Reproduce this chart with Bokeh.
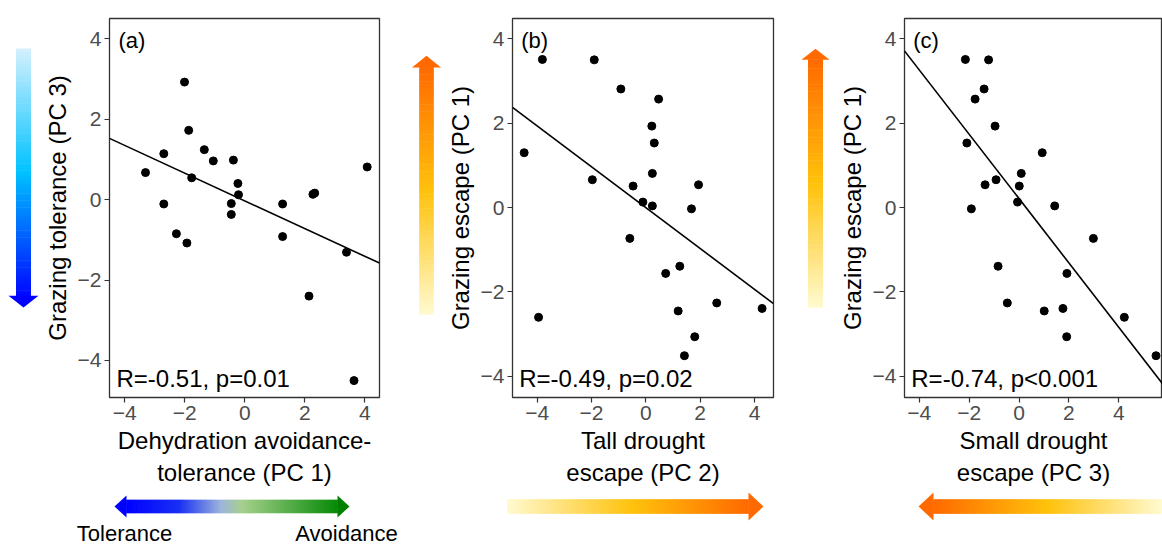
import numpy as np
from bokeh.plotting import figure
from bokeh.layouts import row, column
from bokeh.models import FixedTicker
from bokeh.core.properties import value
from bokeh.embed import file_html
from bokeh.resources import INLINE

# ---- data -------------------------------------------------------------
# (a) dehydration avoidance-tolerance (PC1) vs grazing tolerance (PC3)
dehydration_pc1 = [-2.01, -1.87, -2.70, -1.35, -1.05, -0.38, -3.31, -1.77, -0.23, -0.21,
                   -2.70, -0.45, -0.45, -2.28, -1.93, 1.26, 1.26, 2.27, 2.33, 4.08,
                   3.39, 2.14, 3.64]
tolerance_pc3 = [2.92, 1.72, 1.14, 1.24, 0.96, 0.98, 0.67, 0.54, 0.40, 0.12,
                 -0.11, -0.10, -0.37, -0.85, -1.08, -0.11, -0.92, 0.13, 0.16, 0.81,
                 -1.31, -2.40, -4.50]

# (b, c) grazing escape (PC1) vs tall (PC2) and small (PC3) drought escape
escape_pc1 = [3.51, 3.50, 2.81, 2.57, 1.93, 1.53, 1.30, 0.81, 0.66, 0.51,
              0.54, 0.13, 0.04, -0.03, -0.73, -1.39, -1.56, -2.26, -2.39, -2.45,
              -2.60, -3.06, -3.51]
tall_pc2 = [-3.81, -1.90, -0.92, 0.47, 0.22, 0.31, -4.48, 0.24, -1.97, -0.47,
            1.94, -0.11, 0.24, 1.68, -0.59, 1.25, 0.73, 2.61, 4.28, 1.19,
            -3.95, 1.80, 1.42]
small_pc3 = [-2.15, -1.22, -1.40, -1.76, -0.96, -2.09, 0.93, 0.09, -0.92, 0.01,
             -1.36, -0.06, 1.43, -1.91, 2.98, -0.84, 1.92, -0.47, 1.76, 1.01,
             4.22, 1.91, 5.49]

panel_tags = ["(a)", "(b)", "(c)"]
stats_labels = ["R=-0.51, p=0.01", "R=-0.49, p=0.02", "R=-0.74, p<0.001"]
x_titles = ["Dehydration avoidance-\ntolerance (PC 1)",
            "Tall drought\nescape (PC 2)",
            "Small drought\nescape (PC 3)"]
y_titles = ["Grazing tolerance (PC 3)", "Grazing escape (PC 1)", "Grazing escape (PC 1)"]
tick_values = [-4, -2, 0, 2, 4]

FONT = "Liberation Sans"
TOP_H = 488          # height of the scatter row
STRIP_H = 546 - TOP_H
FRAME_H = 379


def make_panel(xs, ys, xr, yr, width, border_left, border_right, tag, stats, xt, yt):
    p = figure(width=width, height=TOP_H, x_range=xr, y_range=yr,
               output_backend="svg", toolbar_location=None,
               min_border_left=border_left, min_border_right=border_right,
               min_border_top=18, min_border_bottom=TOP_H - 18 - FRAME_H)
    p.grid.visible = False
    p.outline_line_color = "#333333"
    p.outline_line_width = 1.3
    p.background_fill_color = "white"
    p.border_fill_color = "white"
    for ax in (p.xaxis[0], p.yaxis[0]):
        ax.ticker = FixedTicker(ticks=tick_values)
        ax.axis_line_color = None
        ax.major_tick_line_color = "#333333"
        ax.major_tick_line_width = 1.2
        ax.major_tick_out = 5
        ax.major_tick_in = 0
        ax.minor_tick_line_color = None
        ax.major_label_text_font = FONT
        ax.major_label_text_font_size = "21px"
        ax.major_label_text_color = "#4d4d4d"
        ax.major_label_standoff = 3
        ax.axis_label_text_font = FONT
        ax.axis_label_text_font_size = "24px"
        ax.axis_label_text_font_style = "normal"
        ax.axis_label_text_color = "black"
        ax.axis_label_standoff = 4
    p.xaxis.axis_label = xt
    p.yaxis.axis_label = yt

    # least-squares fit across the full x range
    slope, intercept = np.polyfit(np.array(xs), np.array(ys), 1)
    lx = [xr[0], xr[1]]
    p.line(lx, [slope * v + intercept for v in lx], line_color="black", line_width=1.6)
    p.scatter(xs, ys, size=8, fill_color="black", line_color="black")

    frame_w = width - border_left - border_right
    dx = (xr[1] - xr[0]) / frame_w
    dy = (yr[1] - yr[0]) / FRAME_H
    p.text(x=[xr[0] + 9 * dx], y=[yr[1] - 22 * dy], text=[tag],
           text_font=value(FONT), text_font_size="22px", text_color="black",
           text_align="left", text_baseline="middle")
    p.text(x=[xr[0] + 7 * dx], y=[yr[0] + 19 * dy], text=[stats],
           text_font=value(FONT), text_font_size="24px", text_color="black",
           text_align="left", text_baseline="middle")
    return p


def hex2rgb(h):
    h = h.lstrip("#")
    return [int(h[i:i + 2], 16) for i in (0, 2, 4)]


def ramp(stops, t):
    for (t0, c0), (t1, c1) in zip(stops[:-1], stops[1:]):
        if t <= t1:
            f = 0 if t1 == t0 else (t - t0) / (t1 - t0)
            a, b = hex2rgb(c0), hex2rgb(c1)
            return "#%02x%02x%02x" % tuple(int(round(a[i] + (b[i] - a[i]) * f)) for i in range(3))
    return stops[-1][1]


def shaded_bar(p, start, end, c, half, stops, vertical, n=140):
    """Gradient-filled shaft from start to end (along the main axis)."""
    edges = np.linspace(start, end, n + 1)
    lo, hi = edges[:-1], edges[1:]
    a = np.minimum(lo, hi) - 0.4
    b = np.maximum(lo, hi) + 0.4
    cols = [ramp(stops, (i + 0.5) / n) for i in range(n)]
    if vertical:
        p.quad(left=c - half, right=c + half, bottom=a, top=b, fill_color=cols, line_color=None)
    else:
        p.quad(left=a, right=b, bottom=c - half, top=c + half, fill_color=cols, line_color=None)


def head(p, base, tip, c, half, color, vertical):
    if vertical:
        p.patch([c - half, c + half, c], [base, base, tip], fill_color=color, line_color=None)
    else:
        p.patch([base, base, tip], [c - half, c + half, c], fill_color=color, line_color=None)


def blank(width, height):
    f = figure(width=width, height=height, x_range=(0, width), y_range=(0, height),
               output_backend="svg", toolbar_location=None, min_border=0)
    f.axis.visible = False
    f.grid.visible = False
    f.outline_line_color = None
    f.background_fill_color = "white"
    f.border_fill_color = "white"
    return f


blue_stops = [(0.0, "#d5f0fd"), (0.5, "#00c2ff"), (1.0, "#0008ff")]
warm_up_stops = [(0.0, "#fffad0"), (0.5, "#ffc20c"), (1.0, "#ff6a00")]

# vertical arrows beside the y axes (coordinates measured upward)
va = blank(40, TOP_H)
shaded_bar(va, 449, 131, 23, 7.5, blue_stops, True)
head(va, 131, 116, 23, 15, "#0000ff", True)

vb = blank(38, TOP_H)
shaded_bar(vb, 107, 425, 21, 7.3, warm_up_stops, True)
head(vb, 425, 440, 21, 14.5, "#ff6a00", True)

vc = blank(40, TOP_H)
shaded_bar(vc, 116, 435, 20, 7.5, warm_up_stops, True)
head(vc, 435, 449, 20, 14, "#ff6a00", True)

pa = make_panel(dehydration_pc1, tolerance_pc3, (-4.51, 4.49), (-4.92, 4.50),
                365, 68, 26, panel_tags[0], stats_labels[0], x_titles[0], y_titles[0])
pb = make_panel(tall_pc2, escape_pc1, (-4.91, 4.70), (-4.50, 4.48),
                352, 59, 22, panel_tags[1], stats_labels[1], x_titles[1], y_titles[1])
pc = make_panel(small_pc3, escape_pc1, (-4.59, 5.75), (-4.50, 4.48),
                327, 61, 0, panel_tags[2], stats_labels[2], x_titles[2], y_titles[2])

# horizontal arrows and end labels under the x axes
strip = blank(1162, STRIP_H)
cy = 40
dual_stops = [(0.0, "#0000ff"), (0.25, "#1830f4"), (0.45, "#9db4dc"), (0.55, "#a6d08c"),
              (1.0, "#068a06")]
shaded_bar(strip, 126, 337, cy, 6.7, dual_stops, False)
head(strip, 126, 114, cy, 11, "#0000ff", False)
head(strip, 337, 349, cy, 11, "#008000", False)
strip.text(x=[124, 346], y=[13, 13], text=["Tolerance", "Avoidance"],
           text_font=value(FONT), text_font_size="22px", text_color="black",
           text_align="center", text_baseline="middle")

warm_right = [(0.0, "#fffad0"), (0.52, "#ffc20c"), (1.0, "#ff6a00")]
shaded_bar(strip, 507, 748, cy, 7.3, warm_right, False)
head(strip, 748, 763, cy, 14, "#ff6a00", False)

warm_left = [(0.0, "#ff6a00"), (0.5, "#ffc20c"), (1.0, "#fffad0")]
shaded_bar(strip, 933, 1162, cy, 7.3, warm_left, False)
head(strip, 933, 918, cy, 14, "#ff6a00", False)

layout = column(row(va, pa, vb, pb, vc, pc), strip)
open("out.html", "w").write(file_html(layout, INLINE))
